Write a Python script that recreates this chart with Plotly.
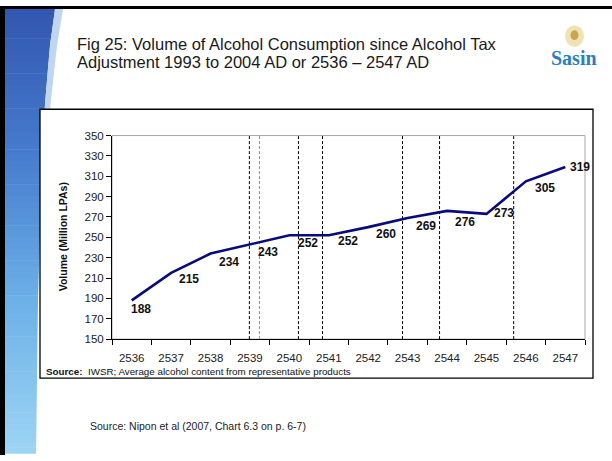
import numpy as np
import plotly.graph_objects as go

# Alcohol consumption volume (million LPAs) by Thai Buddhist-era year
years = [2536, 2537, 2538, 2539, 2540, 2541, 2542, 2543, 2544, 2545, 2546, 2547]
volume = [188, 215, 234, 243, 252, 252, 260, 269, 276, 273, 305, 319]

# Alcohol tax adjustments (fractional year positions), drawn as dashed markers
tax_adjustments = [2538.985, 2539.24, 2540.23, 2540.84, 2542.87, 2543.81, 2545.69]
tax_adjust_colors = ["#000000", "#8c8c8c", "#000000", "#000000", "#000000", "#000000", "#000000"]

y_ticks = list(range(150, 351, 20))

title_lines = [
    "Fig 25: Volume of Alcohol Consumption since Alcohol Tax",
    "Adjustment 1993 to 2004 AD or 2536 – 2547 AD",
]

# label offsets in pixels (right, down) relative to each point
label_dx = [9, 18, 18, 18, 19, 19, 18, 18, 18, 18, 19, 15]
label_dy = [9, 6, 8, 8, 8, 6, 7, 8, 11, -1, 7, 0]

W, H = 612, 461
FONT = "Arial, Liberation Sans, sans-serif"


def px(x):
    return x / W


def py(y):
    return 1 - y / H


fig = go.Figure()

fig.add_trace(go.Scatter(
    x=years, y=volume, mode="lines",
    line=dict(color="#0a0a80", width=2.6),
    hoverinfo="x+y", showlegend=False,
))

shapes = []

# slide frame: black top edge
shapes.append(dict(type="rect", xref="paper", yref="paper",
                   x0=0, x1=1, y0=py(3), y1=1, line=dict(width=0), fillcolor="#000000", layer="below"))

# left decorative blue band, built from thin strips to give a vertical gradient
ctrl_y = [3, 40, 100, 200, 300, 461]
ctrl_x = [55, 50, 45, 41, 38, 36]
ctrl_c_y = [0, 150, 300, 461]
ctrl_r = [50, 70, 108, 158]
ctrl_g = [86, 124, 176, 214]
ctrl_b = [176, 206, 232, 244]
edges = np.arange(3, 462, 6)
for y0, y1 in zip(edges[:-1], edges[1:]):
    ym = (y0 + y1) / 2
    xr0 = np.interp(y0, ctrl_y, ctrl_x)
    xr1 = np.interp(y1, ctrl_y, ctrl_x)
    r = int(np.interp(ym, ctrl_c_y, ctrl_r))
    g = int(np.interp(ym, ctrl_c_y, ctrl_g))
    b = int(np.interp(ym, ctrl_c_y, ctrl_b))
    path = (f"M {px(5)},{py(y0)} L {px(xr0)},{py(y0)} "
            f"L {px(xr1)},{py(y1 + 0.6)} L {px(5)},{py(y1 + 0.6)} Z")
    shapes.append(dict(type="path", xref="paper", yref="paper", path=path,
                       line=dict(width=0), fillcolor=f"rgb({r},{g},{b})", layer="below"))
    # soft light sheen along the band's edge near the top
    sw = np.interp(ym, [3, 120, 220], [8, 5, 0])
    if sw > 0.3:
        path2 = (f"M {px(xr0)},{py(y0)} L {px(xr0 + sw)},{py(y0)} "
                 f"L {px(xr1 + sw)},{py(y1 + 0.6)} L {px(xr1)},{py(y1 + 0.6)} Z")
        shapes.append(dict(type="path", xref="paper", yref="paper", path=path2,
                           line=dict(width=0), fillcolor="rgb(192,214,240)", layer="below"))

# slide frame: black left edge
shapes.append(dict(type="rect", xref="paper", yref="paper",
                   x0=0, x1=px(5), y0=0, y1=1, line=dict(width=0), fillcolor="#000000", layer="below"))

# chart box
shapes.append(dict(type="rect", xref="paper", yref="paper",
                   x0=px(40), x1=px(593), y0=py(382), y1=py(106),
                   line=dict(color="#000000", width=1.3), fillcolor="#ffffff", layer="below"))

# plot-area border (grey top and right)
shapes.append(dict(type="rect", xref="x domain", yref="y domain",
                   x0=0, x1=1, y0=0, y1=1, line=dict(color="#a8a8a8", width=1), layer="below"))

# tax adjustment markers
for xv, col in zip(tax_adjustments, tax_adjust_colors):
    shapes.append(dict(type="line", xref="x", yref="y domain", x0=xv, x1=xv, y0=0, y1=1,
                       line=dict(color=col, width=1, dash="3px,2px"), layer="below"))

# Sasin emblem
shapes.append(dict(type="circle", xref="paper", yref="paper",
                   x0=px(565), x1=px(584), y0=py(42), y1=py(20),
                   line=dict(width=0), fillcolor="#efe3b6", layer="below"))
shapes.append(dict(type="circle", xref="paper", yref="paper",
                   x0=px(570.5), x1=px(578.5), y0=py(35), y1=py(25),
                   line=dict(width=0), fillcolor="#c9a64a", layer="below"))

annotations = []

# value labels
for xv, yv, dx, dy in zip(years, volume, label_dx, label_dy):
    annotations.append(dict(x=xv, y=yv, xref="x", yref="y", text=f"<b>{yv}</b>",
                            showarrow=False, xshift=dx, yshift=-dy,
                            font=dict(family=FONT, size=12, color="#111111")))

# slide title (two lines, tight leading)
for i, line in enumerate(title_lines):
    annotations.append(dict(
        x=px(75), y=py(39 + 19 * i), xref="paper", yref="paper",
        xanchor="left", yanchor="middle", showarrow=False, text=line,
        font=dict(family=FONT, size=16.5, color="#1a1a1a")))

annotations.append(dict(
    x=px(574), y=py(53), xref="paper", yref="paper", xanchor="center", yanchor="middle",
    showarrow=False, text="<b>Sasin</b>",
    font=dict(family="Liberation Serif, Times New Roman, serif", size=20, color="#2a7fc9")))

# axis title
annotations.append(dict(
    x=px(63), y=py(237.5), xref="paper", yref="paper", textangle=-90,
    xanchor="center", yanchor="middle",
    showarrow=False, text="<b>Volume (Million LPAs)</b>",
    font=dict(family=FONT, size=10.5, color="#111111")))

# in-chart source line
annotations.append(dict(
    x=px(44), y=py(375), xref="paper", yref="paper", xanchor="left", yanchor="middle",
    showarrow=False,
    text="<b>Source:</b>  IWSR; Average alcohol content from representative products",
    font=dict(family=FONT, size=9.8, color="#111111")))

# slide footnote
annotations.append(dict(
    x=px(88), y=py(431), xref="paper", yref="paper", xanchor="left", yanchor="middle",
    showarrow=False, text="Source: Nipon et al (2007, Chart 6.3 on p. 6-7)",
    font=dict(family=FONT, size=10.5, color="#222222")))

fig.update_layout(
    width=W, height=H,
    margin=dict(l=0, r=0, t=0, b=0),
    paper_bgcolor="#ffffff", plot_bgcolor="#ffffff",
    shapes=shapes, annotations=annotations,
    xaxis=dict(
        domain=[px(112), px(585)], range=[2535.5, 2547.5],
        tickmode="array", tickvals=years, ticktext=[str(y) for y in years],
        ticks="", showgrid=False, zeroline=False,
        showline=True, linecolor="#000000", linewidth=1,
        ticklabelstandoff=8,
        tickfont=dict(family=FONT, size=11.5, color="#222222"),
        minor=dict(tickmode="linear", tick0=2535.5, dtick=1, ticks="outside",
                   ticklen=5, tickcolor="#000000", tickwidth=1, showgrid=False),
    ),
    yaxis=dict(
        domain=[py(342), py(133)], range=[150, 350],
        tickmode="array", tickvals=y_ticks,
        ticks="outside", ticklen=5, tickcolor="#000000", tickwidth=1,
        showgrid=False, zeroline=False,
        showline=True, linecolor="#000000", linewidth=1,
        tickfont=dict(family=FONT, size=11.5, color="#222222"),
    ),
)

fig.write_html("out.html")
